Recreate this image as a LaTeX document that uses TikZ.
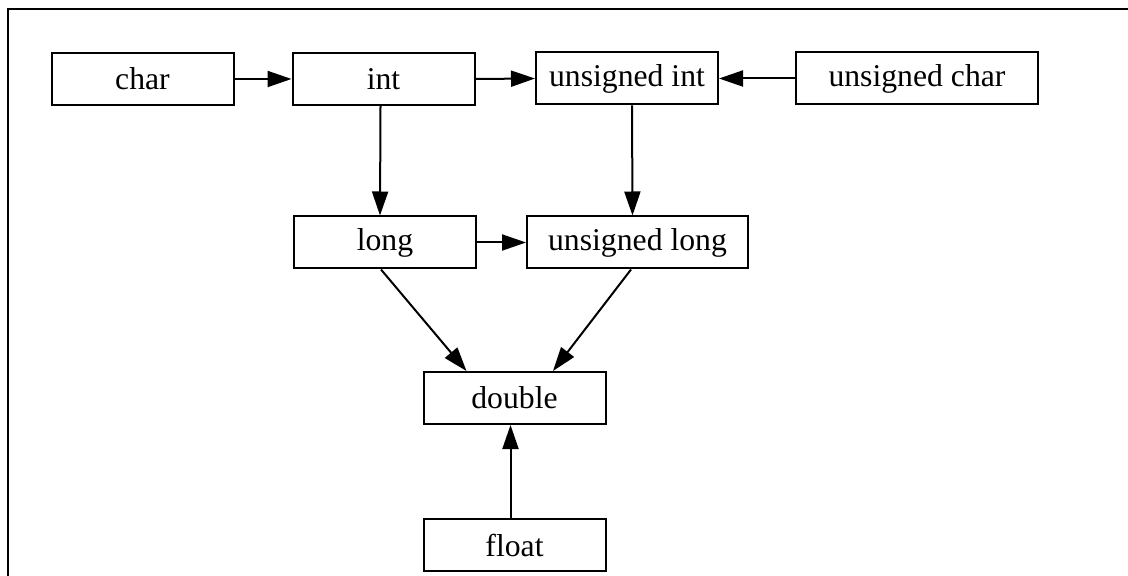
\documentclass[tikz,border=0pt]{standalone}
\usepackage{fontspec}
\setmainfont{Liberation Serif}
\usetikzlibrary{arrows.meta}
\begin{document}
\begin{tikzpicture}[x=0.5pt,y=-0.5pt,
  box/.style={draw=black,line width=1pt,minimum width=91pt,minimum height=26pt,inner sep=0pt,
    font=\fontsize{15.85}{19}\selectfont},
  arr/.style={draw=black,line width=1pt,-{Triangle[length=12pt,width=8pt]}}]
\useasboundingbox (0,0) rectangle (1128,576);
\fill[white] (0,0) rectangle (1128,576);
\draw[line width=1pt] (8,9) rectangle (1160,600);
\node[box] (char) at (142.5,79) {char};
\node[box] (int) at (383.5,79) {int};
\node[box] (uint) at (627,78.5) {unsigned int};
\node[box,minimum width=121pt] (uchar) at (917,78.5) {unsigned char};
\node[box] (long) at (385,242.5) {long};
\node[box,minimum width=110.5pt] (ulong) at (637.5,242.5) {unsigned long};
\node[box] (double) at (514.5,398) {double};
\node[box] (float) at (514.5,545) {float};
\draw[arr] (char.east) -- (int.west);
\draw[arr] (int.east) -- (uint.west);
\draw[arr] (uchar.west) -- (uint.east);
\draw[arr] ([xshift=-1.5pt]int.south) -- ([xshift=-2.5pt]long.north);
\draw[arr] ([xshift=2.5pt]uint.south) -- ([xshift=-2.5pt]ulong.north);
\draw[arr] (long.east) -- (ulong.west);
\draw[arr] ([xshift=-2pt]long.south) -- ([xshift=-24pt]double.north);
\draw[arr] ([xshift=-3.25pt]ulong.south) -- ([xshift=19.25pt]double.north);
\draw[arr] ([xshift=-2pt]float.north) -- ([xshift=-2pt]double.south);
\end{tikzpicture}
\end{document}
